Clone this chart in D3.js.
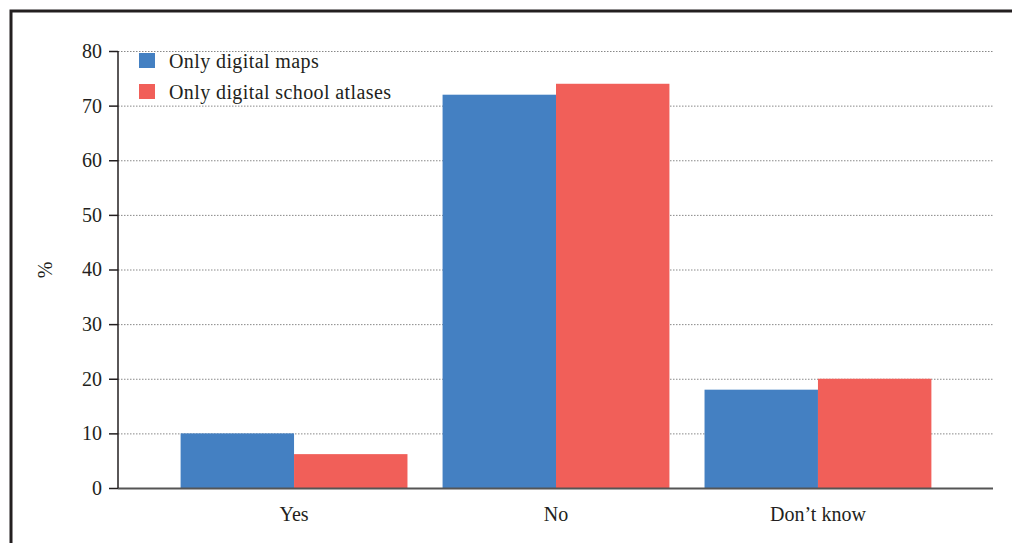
<!DOCTYPE html>
<html>
<head>
	<title></title>
	<script src="https://d3js.org/d3.v7.min.js"></script>
	<style>
		body { margin: 0; background: #fff; }
		svg { display: block; }
		svg text { font-family: "Liberation Serif", "DejaVu Serif", serif; }
		.grid line { stroke: #888; stroke-dasharray: 1.5,1.5; stroke-width: 1; }
		.axis text { font-size: 20px; fill: #231f20; }
	</style>
</head>
<body>
	<svg width="1012" height="543"></svg>
<script type="text/javascript">

	const categories = ["Yes", "No", "Don\u2019t know"];
	const seriesNames = ["Only digital maps", "Only digital school atlases"];
	const digitalMaps = [10, 72, 18];
	const digitalAtlases = [6.2, 74, 20];
	const yTicks = [0, 10, 20, 30, 40, 50, 60, 70, 80];
	const colors = ["#4480c2", "#f15f59"];

	var data = categories.map(function(c, i) {
		return { cat: c, values: [digitalMaps[i], digitalAtlases[i]] };
	});

	var svg = d3.select("svg");

	// outer frame
	svg.append("rect")
		.attr("x", 11).attr("y", 11)
		.attr("width", 1020).attr("height", 560)
		.attr("fill", "none")
		.attr("stroke", "#231f20")
		.attr("stroke-width", 3);

	const plotLeft = 118, plotRight = 994, plotTop = 51, plotBottom = 488;

	var x = d3.scaleBand()
		.domain(categories)
		.range([plotLeft, plotRight])
		.paddingInner(0.134)
		.paddingOuter(0.239);
	var x1 = d3.scaleBand()
		.domain([0, 1])
		.range([0, x.bandwidth()]);
	var y = d3.scaleLinear()
		.domain([0, 80])
		.range([plotBottom, plotTop]);

	// gridlines
	svg.append("g")
		.attr("class", "grid")
		.selectAll("line")
		.data(yTicks.slice(1))
		.enter().append("line")
		.attr("x1", plotLeft).attr("x2", plotRight)
		.attr("y1", function(d) { return y(d) + 0.5; })
		.attr("y2", function(d) { return y(d) + 0.5; });

	// bars
	svg.append("g")
		.selectAll("g")
		.data(data)
		.enter().append("g")
		.attr("transform", function(d) { return "translate(" + x(d.cat) + ",0)"; })
		.selectAll("rect")
		.data(function(d) { return d.values; })
		.enter().append("rect")
		.attr("x", function(d, i) { return x1(i); })
		.attr("y", function(d) { return y(d); })
		.attr("width", x1.bandwidth())
		.attr("height", function(d) { return plotBottom - y(d); })
		.attr("fill", function(d, i) { return colors[i]; });

	// x axis line
	svg.append("line")
		.attr("x1", plotLeft).attr("x2", plotRight - 1)
		.attr("y1", plotBottom + 0.5).attr("y2", plotBottom + 0.5)
		.attr("stroke", "#555").attr("stroke-width", 2);

	// y axis
	const yAxis = svg.append("g")
		.attr("class", "axis")
		.attr("transform", "translate(" + plotLeft + ",0)")
		.call(d3.axisLeft(y).tickValues(yTicks).tickSize(9).tickPadding(7));
	yAxis.select(".domain").attr("stroke", "#231f20").attr("stroke-width", 1.5)
		.attr("d", "M0," + plotTop + "V" + plotBottom);
	yAxis.selectAll(".tick line").attr("stroke", "#231f20").attr("stroke-width", 1.5);

	// x labels
	const xAxis = svg.append("g")
		.attr("class", "axis")
		.attr("transform", "translate(0," + plotBottom + ")")
		.call(d3.axisBottom(x).tickSize(0).tickPadding(19));
	xAxis.select(".domain").remove();

	// y title
	svg.append("text")
		.attr("transform", "translate(52,270) rotate(-90)")
		.attr("text-anchor", "middle")
		.attr("font-size", 20)
		.attr("fill", "#231f20")
		.text("%");

	// legend
	var legend = svg.append("g")
		.selectAll("g")
		.data(seriesNames)
		.enter().append("g")
		.attr("transform", function(d, i) { return "translate(139," + (53 + i * 31) + ")"; });

	legend.append("rect")
		.attr("width", 16)
		.attr("height", 15)
		.attr("fill", function(d, i) { return colors[i]; });

	legend.append("text")
		.attr("x", 30)
		.attr("y", 8)
		.attr("dy", "0.35em")
		.attr("font-size", 20)
		.attr("letter-spacing", 0.4)
		.attr("fill", "#231f20")
		.text(function(d) { return d; });

</script>
</body>
</html>
